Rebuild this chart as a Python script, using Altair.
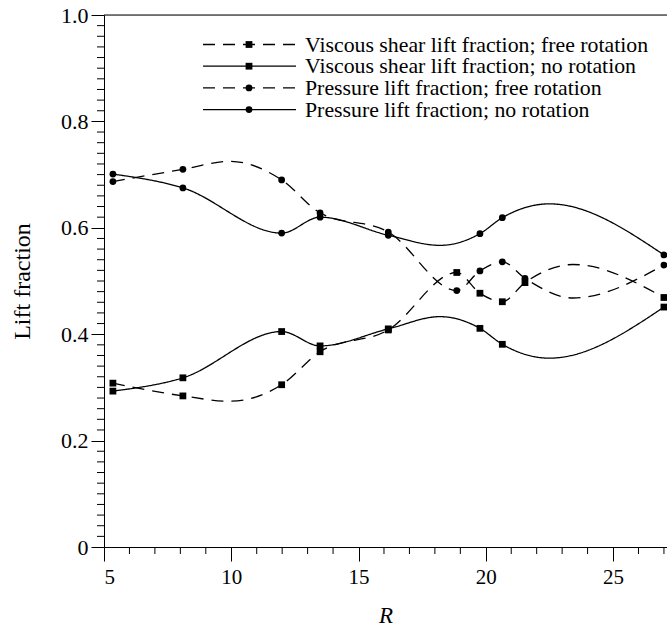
import altair as alt
import pandas as pd

# ---- data ----
# marker positions
R_free = [5.35, 8.1, 11.98, 13.49, 16.17, 18.86, 19.77, 20.65, 21.54, 27.0]
R_none = [5.35, 8.1, 11.98, 13.49, 16.17, 19.77, 20.65, 27.0]
visc_free = [0.308, 0.284, 0.305, 0.367, 0.408, 0.516, 0.477, 0.461, 0.497, 0.469]
visc_none = [0.293, 0.318, 0.405, 0.378, 0.410, 0.411, 0.381, 0.451]
pres_free = [0.687, 0.710, 0.690, 0.628, 0.592, 0.482, 0.519, 0.536, 0.505, 0.530]
pres_none = [0.701, 0.675, 0.590, 0.620, 0.586, 0.589, 0.619, 0.549]

# extra points (peaks / troughs between markers)
R_free_curve = [9.95, 23.43]
R_none_curve = [18.2, 22.5]
visc_free_curve = [0.274, 0.531]
visc_none_curve = [0.433, 0.355]
pres_free_curve = [0.725, 0.468]
pres_none_curve = [0.567, 0.645]

names = [
    "Viscous shear lift fraction; free rotation",
    "Viscous shear lift fraction; no rotation",
    "Pressure lift fraction; free rotation",
    "Pressure lift fraction; no rotation",
]
x_major = [5, 10, 15, 20, 25]
x_minor = [6, 7, 8, 9, 11, 12, 13, 14, 16, 17, 18, 19, 21, 22, 23, 24, 26, 27]
y_major = [0, 0.2, 0.4, 0.6, 0.8, 1.0]
y_minor = [round(i * 0.02, 2) for i in range(51) if i % 10 != 0]

marker_rows, curve_rows = [], []
for name, xs_, ys_, cx, cy in zip(
        names,
        [R_free, R_none, R_free, R_none],
        [visc_free, visc_none, pres_free, pres_none],
        [R_free_curve, R_none_curve, R_free_curve, R_none_curve],
        [visc_free_curve, visc_none_curve, pres_free_curve, pres_none_curve]):
    for x, y in zip(xs_, ys_):
        marker_rows.append({"R": x, "f": y, "series": name})
        curve_rows.append({"R": x, "f": y, "series": name})
    for x, y in zip(cx, cy):
        curve_rows.append({"R": x, "f": y, "series": name})
markers = pd.DataFrame(marker_rows)
curves = pd.DataFrame(curve_rows)

W, H = 563, 532
FONT = "Liberation Serif"

dash_scale = alt.Scale(domain=names, range=[[12, 8], [1, 0], [12, 8], [1, 0]])
shape_scale = alt.Scale(domain=names, range=["square", "square", "circle", "circle"])
size_scale = alt.Scale(domain=names, range=[46, 46, 85, 85])

xs = alt.Scale(domain=[5, 27.12], nice=False, zero=False)
ys = alt.Scale(domain=[0, 1], nice=False)

x_axis = alt.Axis(values=x_major, tickSize=14, labelPadding=5, grid=False,
                  title="R", titleFontStyle="italic", titleFontSize=23,
                  titleFontWeight="normal", titleFont=FONT, titleY=68,
                  titleBaseline="middle", labelFont=FONT, labelFontSize=21,
                  domainColor="black", tickColor="black", labelColor="black",
                  titleColor="black")
y_axis = alt.Axis(values=y_major, tickSize=13, labelPadding=3, grid=False,
                  labelExpr="datum.value == 0 ? '0' : format(datum.value, '.1f')",
                  title="Lift fraction", titleFontSize=24, titleFontWeight="normal",
                  titleFont=FONT, titleX=-82, titleBaseline="middle",
                  labelFont=FONT, labelFontSize=22, domainColor="black",
                  tickColor="black", labelColor="black", titleColor="black")

lines = alt.Chart(curves).mark_line(interpolate="monotone", color="black", strokeWidth=1.3).encode(
    x=alt.X("R:Q", scale=xs, axis=x_axis),
    y=alt.Y("f:Q", scale=ys, axis=y_axis),
    strokeDash=alt.StrokeDash("series:N", scale=dash_scale, legend=None),
    detail="series:N",
    order="R:Q",
)
points = alt.Chart(markers).mark_point(filled=True, color="black", opacity=1).encode(
    x=alt.X("R:Q", scale=xs),
    y=alt.Y("f:Q", scale=ys),
    shape=alt.Shape("series:N", scale=shape_scale, legend=None),
    size=alt.Size("series:N", scale=size_scale, legend=None),
)

# minor ticks
xminor = alt.Chart(pd.DataFrame({"v": x_minor})).mark_rule(color="black", strokeWidth=1).encode(
    x=alt.X("v:Q", scale=xs), y=alt.value(H), y2=alt.value(H + 7))
yminor = alt.Chart(pd.DataFrame({"v": y_minor})).mark_rule(color="black", strokeWidth=1).encode(
    y=alt.Y("v:Q", scale=ys), x=alt.value(-7), x2=alt.value(0))
top = alt.Chart(pd.DataFrame({"a": [0]})).mark_rule(color="black", strokeWidth=1).encode(
    x=alt.value(0), x2=alt.value(W + 5), y=alt.value(0))

# manual legend
leg = pd.DataFrame({"series": names, "row": [0, 1, 2, 3]})
lbase = alt.Chart(leg).transform_calculate(ly="29.5 + datum.row * 21.7")
leg_lines = lbase.mark_rule(color="black", strokeWidth=1.3).encode(
    x=alt.value(99), x2=alt.value(192), y=alt.Y("ly:Q", scale=None),
    strokeDash=alt.StrokeDash("series:N", scale=dash_scale, legend=None))
leg_pts = lbase.mark_point(filled=True, color="black", opacity=1).encode(
    x=alt.value(145), y=alt.Y("ly:Q", scale=None),
    shape=alt.Shape("series:N", scale=shape_scale, legend=None),
    size=alt.Size("series:N", scale=size_scale, legend=None))
leg_txt = lbase.mark_text(align="left", baseline="middle", font=FONT, fontSize=21.8,
                          color="black").encode(
    x=alt.value(201), y=alt.Y("ly:Q", scale=None), text="series:N")

chart = alt.layer(top, xminor, yminor, lines, points, leg_lines, leg_pts, leg_txt).properties(
    width=W, height=H,
    autosize=alt.AutoSizeParams(type="none"),
    padding={"left": 104, "top": 15, "right": 0, "bottom": 80},
).configure_view(stroke=None).configure(background="white")

chart.save("out.html", embed_options={"renderer": "svg", "actions": False})
